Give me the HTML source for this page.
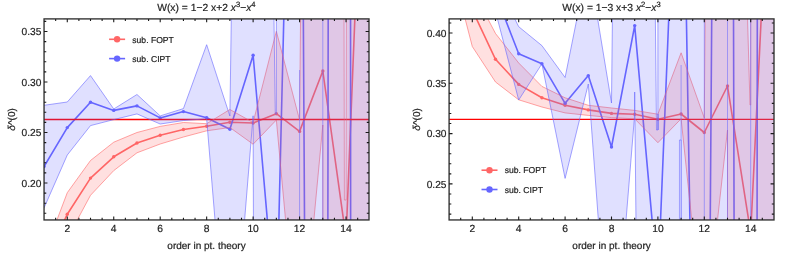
<!DOCTYPE html>
<html><head><meta charset="utf-8"><title>plot</title>
<style>
html,body{margin:0;padding:0;background:#fff;}
svg{display:block;will-change:transform;}
text{font-family:"Liberation Sans",sans-serif;font-size:10px;fill:#222;stroke:#222;stroke-width:0.2px;text-rendering:geometricPrecision;}
</style></head><body>
<svg width="789" height="254" viewBox="0 0 789 254">
<rect width="789" height="254" fill="#fff"/>
<clipPath id="cL"><rect x="44.05" y="18.90" width="324.95" height="201.05"/></clipPath>
<g clip-path="url(#cL)">
<polyline points="44.05,265.00 67.28,214.20 90.51,178.10 113.74,156.80 136.97,143.00 160.20,135.20 183.43,129.50 206.66,126.20 229.89,122.30 253.12,123.00 276.35,113.70 299.58,131.40 322.81,71.00 346.04,238.00 369.27,-340.00" fill="none" stroke="#ff6666" stroke-width="1.6" stroke-linejoin="round"/>
<circle cx="44.05" cy="265.00" r="1.7" fill="#ff6666"/>
<circle cx="67.28" cy="214.20" r="1.7" fill="#ff6666"/>
<circle cx="90.51" cy="178.10" r="1.7" fill="#ff6666"/>
<circle cx="113.74" cy="156.80" r="1.7" fill="#ff6666"/>
<circle cx="136.97" cy="143.00" r="1.7" fill="#ff6666"/>
<circle cx="160.20" cy="135.20" r="1.7" fill="#ff6666"/>
<circle cx="183.43" cy="129.50" r="1.7" fill="#ff6666"/>
<circle cx="206.66" cy="126.20" r="1.7" fill="#ff6666"/>
<circle cx="229.89" cy="122.30" r="1.7" fill="#ff6666"/>
<circle cx="253.12" cy="123.00" r="1.7" fill="#ff6666"/>
<circle cx="276.35" cy="113.70" r="1.7" fill="#ff6666"/>
<circle cx="299.58" cy="131.40" r="1.7" fill="#ff6666"/>
<circle cx="322.81" cy="71.00" r="1.7" fill="#ff6666"/>
<circle cx="346.04" cy="238.00" r="1.7" fill="#ff6666"/>
<circle cx="369.27" cy="-340.00" r="1.7" fill="#ff6666"/>
<polyline points="44.05,166.50 67.28,127.60 90.51,102.30 113.74,110.40 136.97,105.90 160.20,117.90 183.43,111.60 206.66,117.70 229.89,129.20 253.12,55.30 276.35,324.00 299.58,-629.00 322.81,3366.00 346.04,-11083.00 369.27,46110.00" fill="none" stroke="#6666ff" stroke-width="1.6" stroke-linejoin="round"/>
<circle cx="44.05" cy="166.50" r="1.7" fill="#6666ff"/>
<circle cx="67.28" cy="127.60" r="1.7" fill="#6666ff"/>
<circle cx="90.51" cy="102.30" r="1.7" fill="#6666ff"/>
<circle cx="113.74" cy="110.40" r="1.7" fill="#6666ff"/>
<circle cx="136.97" cy="105.90" r="1.7" fill="#6666ff"/>
<circle cx="160.20" cy="117.90" r="1.7" fill="#6666ff"/>
<circle cx="183.43" cy="111.60" r="1.7" fill="#6666ff"/>
<circle cx="206.66" cy="117.70" r="1.7" fill="#6666ff"/>
<circle cx="229.89" cy="129.20" r="1.7" fill="#6666ff"/>
<circle cx="253.12" cy="55.30" r="1.7" fill="#6666ff"/>
<circle cx="276.35" cy="324.00" r="1.7" fill="#6666ff"/>
<circle cx="299.58" cy="-629.00" r="1.7" fill="#6666ff"/>
<circle cx="322.81" cy="3366.00" r="1.7" fill="#6666ff"/>
<circle cx="346.04" cy="-11083.00" r="1.7" fill="#6666ff"/>
<circle cx="369.27" cy="46110.00" r="1.7" fill="#6666ff"/>
<line x1="44.05" x2="369.0" y1="119.5" y2="119.5" stroke="#ff0000" stroke-width="1.3"/>
<polygon points="44.05,254.00 67.28,192.70 90.51,160.50 113.74,142.20 136.97,132.50 160.20,126.40 183.43,122.50 206.66,123.70 229.89,109.50 253.12,122.50 276.35,31.30 299.58,120.00 301.67,-100.00 343.83,-100.00 344.41,200.00 346.04,200.00 346.50,-100.00 369.27,-100.00 369.27,10000.00 323.04,10000.00 322.81,125.00 299.58,372.00 276.35,120.00 253.12,144.20 229.89,127.50 206.66,130.80 183.43,137.00 160.20,144.00 136.97,152.80 113.74,170.60 90.51,195.30 67.28,238.50 44.05,330.00" fill="#ff6666" fill-opacity="0.2" stroke="none"/>
<polyline points="44.05,254.00 67.28,192.70 90.51,160.50 113.74,142.20 136.97,132.50 160.20,126.40 183.43,122.50 206.66,123.70 229.89,109.50 253.12,122.50 276.35,31.30 299.58,120.00 301.67,-100.00 343.83,-100.00 344.41,200.00 346.04,200.00 346.50,-100.00 369.27,-100.00" fill="none" stroke="#ff6666" stroke-opacity="1" stroke-width="0.6"/>
<polyline points="44.05,330.00 67.28,238.50 90.51,195.30 113.74,170.60 136.97,152.80 160.20,144.00 183.43,137.00 206.66,130.80 229.89,127.50 253.12,144.20 276.35,120.00 299.58,372.00 322.81,125.00 323.04,10000.00 369.27,10000.00" fill="none" stroke="#ff6666" stroke-opacity="1" stroke-width="0.6"/>
<polygon points="44.05,105.30 67.28,102.00 90.51,75.60 113.74,109.00 136.97,94.50 160.20,115.90 183.43,108.60 206.66,44.70 229.89,116.00 253.12,-1467.00 275.30,114.00 276.35,114.00 276.58,-10000.00 369.27,-10000.00 369.27,10000.00 276.35,8000.00 253.12,115.80 229.89,400.00 206.66,118.80 183.43,120.50 160.20,124.00 136.97,113.90 113.74,119.60 90.51,125.60 67.28,155.00 44.05,207.90" fill="#6666ff" fill-opacity="0.2" stroke="none"/>
<polyline points="44.05,105.30 67.28,102.00 90.51,75.60 113.74,109.00 136.97,94.50 160.20,115.90 183.43,108.60 206.66,44.70 229.89,116.00 253.12,-1467.00 275.30,114.00 276.35,114.00 276.58,-10000.00 369.27,-10000.00" fill="none" stroke="#6666ff" stroke-opacity="1" stroke-width="0.6"/>
<polyline points="44.05,207.90 67.28,155.00 90.51,125.60 113.74,119.60 136.97,113.90 160.20,124.00 183.43,120.50 206.66,118.80 229.89,400.00 253.12,115.80 276.35,8000.00 369.27,10000.00" fill="none" stroke="#6666ff" stroke-opacity="1" stroke-width="0.6"/>
<path d="M299.58,70V220M322.81,19V220" stroke="#6666ff" stroke-opacity="0.9" stroke-width="0.6"/>
</g>
<rect x="44.05" y="18.90" width="324.95" height="201.05" fill="none" stroke="#303030" stroke-width="1.35"/>
<text x="41.45" y="186.60" text-anchor="end" style="font-size:10.2px">0.20</text>
<text x="41.45" y="136.10" text-anchor="end" style="font-size:10.2px">0.25</text>
<text x="41.45" y="85.60" text-anchor="end" style="font-size:10.2px">0.30</text>
<text x="41.45" y="35.10" text-anchor="end" style="font-size:10.2px">0.35</text>
<path d="M55.66,219.95v-2.2M55.66,18.90v2.2M67.28,219.95v-3.4M67.28,18.90v3.4M78.89,219.95v-2.2M78.89,18.90v2.2M90.51,219.95v-2.2M90.51,18.90v2.2M102.12,219.95v-2.2M102.12,18.90v2.2M113.74,219.95v-3.4M113.74,18.90v3.4M125.36,219.95v-2.2M125.36,18.90v2.2M136.97,219.95v-2.2M136.97,18.90v2.2M148.58,219.95v-2.2M148.58,18.90v2.2M160.20,219.95v-3.4M160.20,18.90v3.4M171.81,219.95v-2.2M171.81,18.90v2.2M183.43,219.95v-2.2M183.43,18.90v2.2M195.05,219.95v-2.2M195.05,18.90v2.2M206.66,219.95v-3.4M206.66,18.90v3.4M218.27,219.95v-2.2M218.27,18.90v2.2M229.89,219.95v-2.2M229.89,18.90v2.2M241.50,219.95v-2.2M241.50,18.90v2.2M253.12,219.95v-3.4M253.12,18.90v3.4M264.74,219.95v-2.2M264.74,18.90v2.2M276.35,219.95v-2.2M276.35,18.90v2.2M287.96,219.95v-2.2M287.96,18.90v2.2M299.58,219.95v-3.4M299.58,18.90v3.4M311.19,219.95v-2.2M311.19,18.90v2.2M322.81,219.95v-2.2M322.81,18.90v2.2M334.43,219.95v-2.2M334.43,18.90v2.2M346.04,219.95v-3.4M346.04,18.90v3.4M357.66,219.95v-2.2M357.66,18.90v2.2M44.05,213.30h2.2M369.00,213.30h-2.2M44.05,203.20h2.2M369.00,203.20h-2.2M44.05,193.10h2.2M369.00,193.10h-2.2M44.05,183.00h3.4M369.00,183.00h-3.4M44.05,172.90h2.2M369.00,172.90h-2.2M44.05,162.80h2.2M369.00,162.80h-2.2M44.05,152.70h2.2M369.00,152.70h-2.2M44.05,142.60h2.2M369.00,142.60h-2.2M44.05,132.50h3.4M369.00,132.50h-3.4M44.05,122.40h2.2M369.00,122.40h-2.2M44.05,112.30h2.2M369.00,112.30h-2.2M44.05,102.20h2.2M369.00,102.20h-2.2M44.05,92.10h2.2M369.00,92.10h-2.2M44.05,82.00h3.4M369.00,82.00h-3.4M44.05,71.90h2.2M369.00,71.90h-2.2M44.05,61.80h2.2M369.00,61.80h-2.2M44.05,51.70h2.2M369.00,51.70h-2.2M44.05,41.60h2.2M369.00,41.60h-2.2M44.05,31.50h3.4M369.00,31.50h-3.4M44.05,21.40h2.2M369.00,21.40h-2.2" stroke="#1a1a1a" stroke-width="1.1" fill="none"/>
<text x="67.28" y="231.75" text-anchor="middle" style="font-size:10.3px">2</text>
<text x="113.74" y="231.75" text-anchor="middle" style="font-size:10.3px">4</text>
<text x="160.20" y="231.75" text-anchor="middle" style="font-size:10.3px">6</text>
<text x="206.66" y="231.75" text-anchor="middle" style="font-size:10.3px">8</text>
<text x="253.12" y="231.75" text-anchor="middle" style="font-size:10.3px">10</text>
<text x="299.58" y="231.75" text-anchor="middle" style="font-size:10.3px">12</text>
<text x="346.04" y="231.75" text-anchor="middle" style="font-size:10.3px">14</text>
<text x="206.53" y="248.6" text-anchor="middle">order in pt. theory</text>
<text transform="translate(14.6,119.42) rotate(-90)" text-anchor="middle"><tspan font-style="italic">δ</tspan>^(0)</text>
<text x="206.4" y="10.6" text-anchor="middle" xml:space="preserve" style="font-size:10.3px">W(x) = 1−2 x+2 <tspan font-style="italic">x</tspan><tspan dy="-4" style="font-size:7.6px">3</tspan><tspan dy="4">−</tspan><tspan font-style="italic">x</tspan><tspan dy="-4" style="font-size:7.6px">4</tspan></text>
<line x1="109.1" x2="125.1" y1="39.3" y2="39.3" stroke="#ff6666" stroke-width="1.6"/>
<circle cx="117.1" cy="39.3" r="3.2" fill="#ff6666"/>
<text x="132.29999999999998" y="42.5" style="font-size:8.6px">sub. FOPT</text>
<line x1="109.1" x2="125.1" y1="58.6" y2="58.6" stroke="#6666ff" stroke-width="1.6"/>
<circle cx="117.1" cy="58.6" r="3.2" fill="#6666ff"/>
<text x="132.29999999999998" y="61.800000000000004" style="font-size:8.6px">sub. CIPT</text>
<clipPath id="cR"><rect x="449.10" y="18.90" width="324.90" height="201.05"/></clipPath>
<g clip-path="url(#cR)">
<polyline points="449.10,-80.00 472.30,10.00 495.50,59.30 518.70,84.40 541.90,97.80 565.10,105.30 588.30,109.90 611.50,113.40 634.70,114.20 657.90,119.20 681.10,114.00 704.30,132.50 727.50,86.00 750.70,233.00 773.90,-242.00" fill="none" stroke="#ff6666" stroke-width="1.6" stroke-linejoin="round"/>
<circle cx="449.10" cy="-80.00" r="1.7" fill="#ff6666"/>
<circle cx="472.30" cy="10.00" r="1.7" fill="#ff6666"/>
<circle cx="495.50" cy="59.30" r="1.7" fill="#ff6666"/>
<circle cx="518.70" cy="84.40" r="1.7" fill="#ff6666"/>
<circle cx="541.90" cy="97.80" r="1.7" fill="#ff6666"/>
<circle cx="565.10" cy="105.30" r="1.7" fill="#ff6666"/>
<circle cx="588.30" cy="109.90" r="1.7" fill="#ff6666"/>
<circle cx="611.50" cy="113.40" r="1.7" fill="#ff6666"/>
<circle cx="634.70" cy="114.20" r="1.7" fill="#ff6666"/>
<circle cx="657.90" cy="119.20" r="1.7" fill="#ff6666"/>
<circle cx="681.10" cy="114.00" r="1.7" fill="#ff6666"/>
<circle cx="704.30" cy="132.50" r="1.7" fill="#ff6666"/>
<circle cx="727.50" cy="86.00" r="1.7" fill="#ff6666"/>
<circle cx="750.70" cy="233.00" r="1.7" fill="#ff6666"/>
<circle cx="773.90" cy="-242.00" r="1.7" fill="#ff6666"/>
<polyline points="472.30,-200.00 495.50,-6.00 518.70,53.80 541.90,63.80 565.10,103.30 588.30,75.60 611.50,147.00 634.70,25.60 657.90,285.00 681.10,-285.00 704.30,1042.00 727.50,-2160.00 750.70,6238.00 773.90,-15640.00" fill="none" stroke="#6666ff" stroke-width="1.6" stroke-linejoin="round"/>
<circle cx="472.30" cy="-200.00" r="1.7" fill="#6666ff"/>
<circle cx="495.50" cy="-6.00" r="1.7" fill="#6666ff"/>
<circle cx="518.70" cy="53.80" r="1.7" fill="#6666ff"/>
<circle cx="541.90" cy="63.80" r="1.7" fill="#6666ff"/>
<circle cx="565.10" cy="103.30" r="1.7" fill="#6666ff"/>
<circle cx="588.30" cy="75.60" r="1.7" fill="#6666ff"/>
<circle cx="611.50" cy="147.00" r="1.7" fill="#6666ff"/>
<circle cx="634.70" cy="25.60" r="1.7" fill="#6666ff"/>
<circle cx="657.90" cy="285.00" r="1.7" fill="#6666ff"/>
<circle cx="681.10" cy="-285.00" r="1.7" fill="#6666ff"/>
<circle cx="704.30" cy="1042.00" r="1.7" fill="#6666ff"/>
<circle cx="727.50" cy="-2160.00" r="1.7" fill="#6666ff"/>
<circle cx="750.70" cy="6238.00" r="1.7" fill="#6666ff"/>
<circle cx="773.90" cy="-15640.00" r="1.7" fill="#6666ff"/>
<line x1="449.1" x2="774.0" y1="119.4" y2="119.4" stroke="#ff0000" stroke-width="1.3"/>
<polygon points="449.10,-300.00 472.30,-10.80 495.50,33.50 518.70,63.00 541.90,86.40 565.10,97.80 588.30,105.30 611.50,108.00 634.70,110.40 657.90,114.20 681.10,52.80 704.30,118.00 706.04,-100.00 744.20,-100.00 750.00,105.00 750.70,105.00 750.70,-100.00 773.90,-100.00 773.90,10000.00 727.73,10000.00 727.50,130.00 704.30,339.00 681.10,118.80 657.90,142.70 634.70,118.80 611.50,117.60 588.30,115.40 565.10,112.90 541.90,107.00 518.70,99.80 495.50,82.00 472.30,46.50 449.10,-43.00" fill="#ff6666" fill-opacity="0.2" stroke="none"/>
<polyline points="449.10,-300.00 472.30,-10.80 495.50,33.50 518.70,63.00 541.90,86.40 565.10,97.80 588.30,105.30 611.50,108.00 634.70,110.40 657.90,114.20 681.10,52.80 704.30,118.00 706.04,-100.00 744.20,-100.00 750.00,105.00 750.70,105.00 750.70,-100.00 773.90,-100.00" fill="none" stroke="#ff6666" stroke-opacity="1" stroke-width="0.6"/>
<polyline points="449.10,-43.00 472.30,46.50 495.50,82.00 518.70,99.80 541.90,107.00 565.10,112.90 588.30,115.40 611.50,117.60 634.70,118.80 657.90,142.70 681.10,118.80 704.30,339.00 727.50,130.00 727.73,10000.00 773.90,10000.00" fill="none" stroke="#ff6666" stroke-opacity="1" stroke-width="0.6"/>
<polygon points="495.50,-19.60 518.70,26.70 541.90,45.60 565.10,77.50 588.30,-38.00 611.50,103.00 634.70,-2016.00 656.51,130.00 657.90,130.00 659.29,-10000.00 773.90,-10000.00 773.90,10000.00 681.10,10000.00 681.10,140.00 679.48,140.00 678.78,10000.00 636.09,10000.00 636.09,230.00 634.93,117.00 634.70,92.00 634.47,117.00 611.50,398.00 588.30,84.00 565.10,178.40 541.90,63.80 518.70,100.00 495.50,11.40" fill="#6666ff" fill-opacity="0.2" stroke="none"/>
<polyline points="495.50,-19.60 518.70,26.70 541.90,45.60 565.10,77.50 588.30,-38.00 611.50,103.00 634.70,-2016.00 656.51,130.00 657.90,130.00 659.29,-10000.00 773.90,-10000.00" fill="none" stroke="#6666ff" stroke-opacity="1" stroke-width="0.6"/>
<polyline points="495.50,11.40 518.70,100.00 541.90,63.80 565.10,178.40 588.30,84.00 611.50,398.00 634.47,117.00 634.70,92.00 634.93,117.00 636.09,230.00 636.09,10000.00 678.78,10000.00 679.48,140.00 681.10,140.00 681.10,10000.00 773.90,10000.00" fill="none" stroke="#6666ff" stroke-opacity="1" stroke-width="0.6"/>
<path d="M657.90,114V130M658.20,114V130M681.10,65V220M704.30,19V220M727.50,19V220M750.70,19V220" stroke="#6666ff" stroke-opacity="0.9" stroke-width="0.6"/>
</g>
<rect x="449.10" y="18.90" width="324.90" height="201.05" fill="none" stroke="#303030" stroke-width="1.35"/>
<text x="446.50" y="187.50" text-anchor="end" style="font-size:10.2px">0.25</text>
<text x="446.50" y="137.20" text-anchor="end" style="font-size:10.2px">0.30</text>
<text x="446.50" y="86.90" text-anchor="end" style="font-size:10.2px">0.35</text>
<text x="446.50" y="36.60" text-anchor="end" style="font-size:10.2px">0.40</text>
<path d="M460.70,219.95v-2.2M460.70,18.90v2.2M472.30,219.95v-3.4M472.30,18.90v3.4M483.90,219.95v-2.2M483.90,18.90v2.2M495.50,219.95v-2.2M495.50,18.90v2.2M507.10,219.95v-2.2M507.10,18.90v2.2M518.70,219.95v-3.4M518.70,18.90v3.4M530.30,219.95v-2.2M530.30,18.90v2.2M541.90,219.95v-2.2M541.90,18.90v2.2M553.50,219.95v-2.2M553.50,18.90v2.2M565.10,219.95v-3.4M565.10,18.90v3.4M576.70,219.95v-2.2M576.70,18.90v2.2M588.30,219.95v-2.2M588.30,18.90v2.2M599.90,219.95v-2.2M599.90,18.90v2.2M611.50,219.95v-3.4M611.50,18.90v3.4M623.10,219.95v-2.2M623.10,18.90v2.2M634.70,219.95v-2.2M634.70,18.90v2.2M646.30,219.95v-2.2M646.30,18.90v2.2M657.90,219.95v-3.4M657.90,18.90v3.4M669.50,219.95v-2.2M669.50,18.90v2.2M681.10,219.95v-2.2M681.10,18.90v2.2M692.70,219.95v-2.2M692.70,18.90v2.2M704.30,219.95v-3.4M704.30,18.90v3.4M715.90,219.95v-2.2M715.90,18.90v2.2M727.50,219.95v-2.2M727.50,18.90v2.2M739.10,219.95v-2.2M739.10,18.90v2.2M750.70,219.95v-3.4M750.70,18.90v3.4M762.30,219.95v-2.2M762.30,18.90v2.2M449.10,214.08h2.2M774.00,214.08h-2.2M449.10,204.02h2.2M774.00,204.02h-2.2M449.10,193.96h2.2M774.00,193.96h-2.2M449.10,183.90h3.4M774.00,183.90h-3.4M449.10,173.84h2.2M774.00,173.84h-2.2M449.10,163.78h2.2M774.00,163.78h-2.2M449.10,153.72h2.2M774.00,153.72h-2.2M449.10,143.66h2.2M774.00,143.66h-2.2M449.10,133.60h3.4M774.00,133.60h-3.4M449.10,123.54h2.2M774.00,123.54h-2.2M449.10,113.48h2.2M774.00,113.48h-2.2M449.10,103.42h2.2M774.00,103.42h-2.2M449.10,93.36h2.2M774.00,93.36h-2.2M449.10,83.30h3.4M774.00,83.30h-3.4M449.10,73.24h2.2M774.00,73.24h-2.2M449.10,63.18h2.2M774.00,63.18h-2.2M449.10,53.12h2.2M774.00,53.12h-2.2M449.10,43.06h2.2M774.00,43.06h-2.2M449.10,33.00h3.4M774.00,33.00h-3.4M449.10,22.94h2.2M774.00,22.94h-2.2" stroke="#1a1a1a" stroke-width="1.1" fill="none"/>
<text x="472.30" y="231.75" text-anchor="middle" style="font-size:10.3px">2</text>
<text x="518.70" y="231.75" text-anchor="middle" style="font-size:10.3px">4</text>
<text x="565.10" y="231.75" text-anchor="middle" style="font-size:10.3px">6</text>
<text x="611.50" y="231.75" text-anchor="middle" style="font-size:10.3px">8</text>
<text x="657.90" y="231.75" text-anchor="middle" style="font-size:10.3px">10</text>
<text x="704.30" y="231.75" text-anchor="middle" style="font-size:10.3px">12</text>
<text x="750.70" y="231.75" text-anchor="middle" style="font-size:10.3px">14</text>
<text x="611.55" y="248.6" text-anchor="middle">order in pt. theory</text>
<text transform="translate(419.6,119.42) rotate(-90)" text-anchor="middle"><tspan font-style="italic">δ</tspan>^(0)</text>
<text x="611.5" y="10.6" text-anchor="middle" xml:space="preserve" style="font-size:10.3px">W(x) = 1−3 x+3 <tspan font-style="italic">x</tspan><tspan dy="-4" style="font-size:7.6px">2</tspan><tspan dy="4">−</tspan><tspan font-style="italic">x</tspan><tspan dy="-4" style="font-size:7.6px">3</tspan></text>
<line x1="481.5" x2="497.5" y1="170.2" y2="170.2" stroke="#ff6666" stroke-width="1.6"/>
<circle cx="489.5" cy="170.2" r="3.2" fill="#ff6666"/>
<text x="504.7" y="173.39999999999998" style="font-size:8.6px">sub. FOPT</text>
<line x1="481.5" x2="497.5" y1="189.5" y2="189.5" stroke="#6666ff" stroke-width="1.6"/>
<circle cx="489.5" cy="189.5" r="3.2" fill="#6666ff"/>
<text x="504.7" y="192.7" style="font-size:8.6px">sub. CIPT</text>
</svg>
</body></html>
